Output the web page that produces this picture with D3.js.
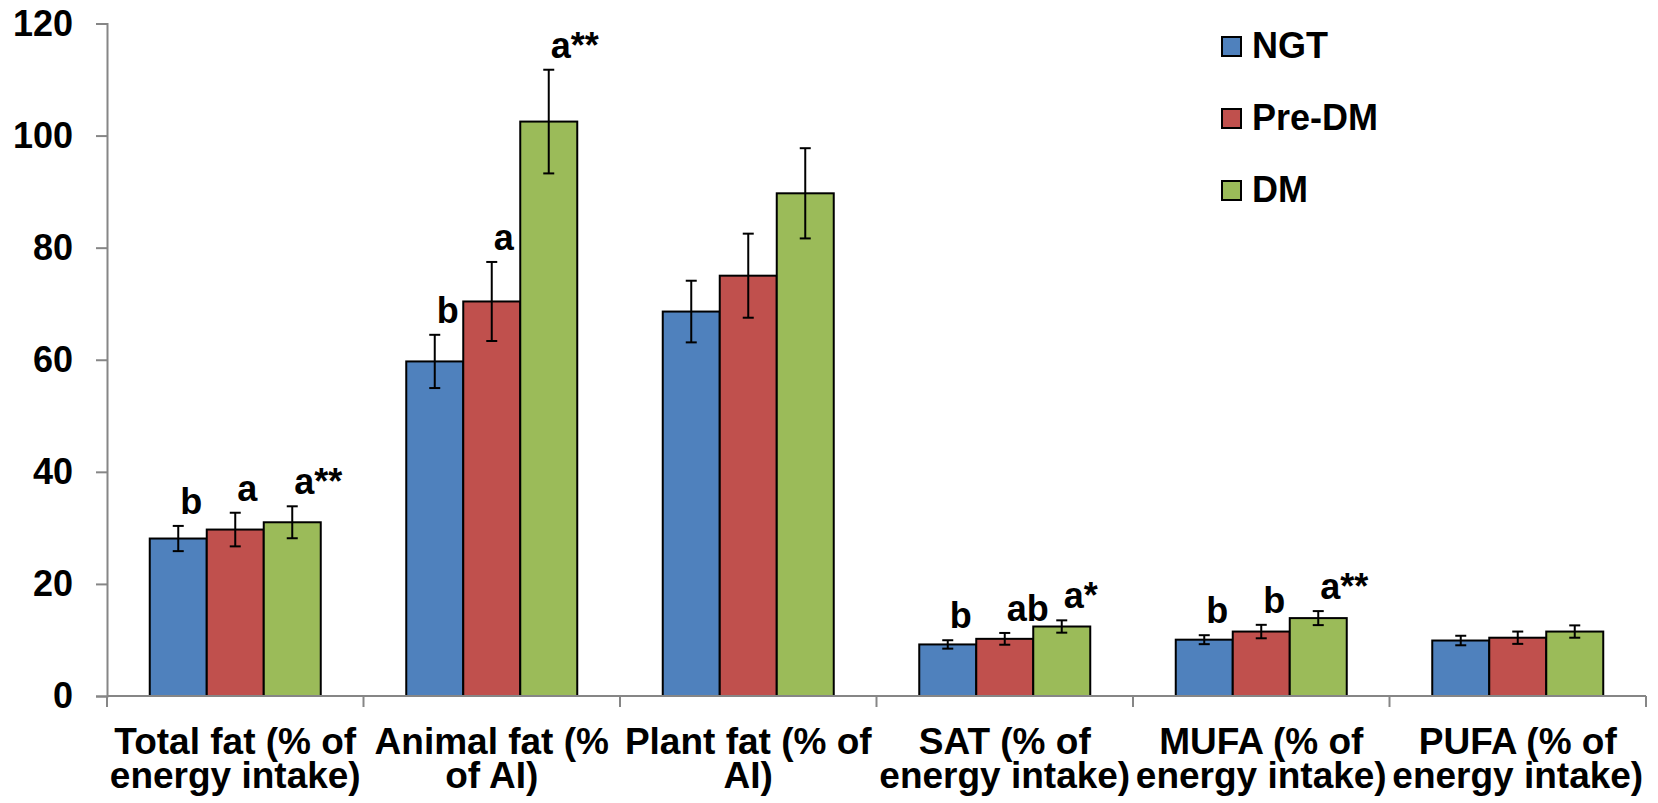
<!doctype html>
<html>
<head>
<meta charset="utf-8"/>
<title>Fat intake by glucose tolerance</title>
<script src="https://d3js.org/d3.v7.min.js"></script>
<style>
  body { margin: 0; background: #fff; }
  text { font-family: Arial, "Liberation Sans", sans-serif; font-weight: bold; fill: #000; }
</style>
</head>
<body>
<script>
// categories (two lines each, as wrapped in the original)
const categories = [
  ["Total fat (% of", "energy intake)"],
  ["Animal fat (%", "of AI)"],
  ["Plant fat (% of", "AI)"],
  ["SAT (% of", "energy intake)"],
  ["MUFA (% of", "energy intake)"],
  ["PUFA (% of", "energy intake)"]
];
const series = ["NGT", "Pre-DM", "DM"];
const colors = ["#4F81BD", "#C0504D", "#9BBB59"];

// means
const ngt   = [28.1, 59.7, 68.6, 9.2, 10.05, 9.9];
const predm = [29.7, 70.4, 75.0, 10.2, 11.5, 10.4];
const dm    = [31.0, 102.5, 89.7, 12.4, 13.9, 11.5];
// error bar half-lengths
const ngtErr   = [2.25, 4.75, 5.5, 0.75, 0.8, 0.85];
const predmErr = [3.0, 7.05, 7.5, 1.05, 1.2, 1.1];
const dmErr    = [2.85, 9.25, 8.05, 1.1, 1.25, 1.1];
// significance letters
const ngtLab   = ["b", "b", "", "b", "b", ""];
const predmLab = ["a", "a", "", "ab", "b", ""];
const dmLab    = ["a**", "a**", "", "a*", "a**", ""];

const yTicks = [0, 20, 40, 60, 80, 100, 120];

const values = [ngt, predm, dm];
const errs = [ngtErr, predmErr, dmErr];
const labs = [ngtLab, predmLab, dmLab];

const W = 1658, H = 803;
const mLeft = 107, mRight = 1646, mTop = 23.5, mBottom = 696;

let svg = d3.select('body').append('svg').attr('width', W).attr('height', H);

var x = d3.scaleBand().domain(d3.range(categories.length)).range([mLeft, mRight]);
var x1 = d3.scaleBand().domain(d3.range(series.length)).range([0, x.bandwidth()])
           .paddingInner(0).paddingOuter(0.75);
var y = d3.scaleLinear().domain([0, 120]).range([mBottom, mTop]);

// flatten into one record per bar
let bars = [];
for (let s = 0; s < series.length; s++)
  for (let c = 0; c < categories.length; c++)
    bars.push({ s: s, c: c, v: values[s][c], e: errs[s][c], lab: labs[s][c] });

// bars
svg.selectAll('.bar')
   .data(bars)
   .enter().append('rect')
    .attr('class', 'bar')
    .attr('x', d => x(d.c) + x1(d.s))
    .attr('width', x1.bandwidth())
    .attr('y', d => y(d.v))
    .attr('height', d => y(0) - y(d.v))
    .style('fill', d => colors[d.s])
    .style('stroke', '#000')
    .style('stroke-width', 2);

// axes (drawn after the bars so the baseline sits on top)
const axisColor = '#868686';
let yAxis = svg.append('g')
   .attr('transform', `translate(${mLeft},0)`)
   .call(d3.axisLeft(y).tickValues(yTicks).tickSize(11).tickPadding(23));
yAxis.select('.domain').attr('stroke', axisColor).attr('stroke-width', 2);
yAxis.selectAll('.tick line').attr('stroke', axisColor).attr('stroke-width', 2);
yAxis.selectAll('.tick text')
   .style('font-size', '36px')
   .attr('fill', '#000');

svg.append('line')
   .attr('x1', mLeft).attr('x2', mRight)
   .attr('y1', y(0)).attr('y2', y(0))
   .attr('stroke', axisColor).attr('stroke-width', 2);

svg.selectAll('.ctick')
   .data(d3.range(categories.length + 1))
   .enter().append('line')
    .attr('class', 'ctick')
    .attr('x1', i => mLeft + i * x.bandwidth())
    .attr('x2', i => mLeft + i * x.bandwidth())
    .attr('y1', y(0)).attr('y2', y(0) + 11)
    .attr('stroke', axisColor).attr('stroke-width', 2);

// category labels
let cl = svg.selectAll('.clab')
   .data(categories)
   .enter().append('text')
    .attr('class', 'clab')
    .attr('text-anchor', 'middle')
    .style('font-size', '37px');
cl.append('tspan')
   .attr('x', (d, i) => x(i) + x.bandwidth() / 2)
   .attr('y', 754)
   .text(d => d[0]);
cl.append('tspan')
   .attr('x', (d, i) => x(i) + x.bandwidth() / 2)
   .attr('y', 788)
   .text(d => d[1]);

// error bars
const cap = 5.5;
let eb = svg.selectAll('.err')
   .data(bars)
   .enter().append('g')
    .attr('class', 'err')
    .attr('transform', d => `translate(${x(d.c) + x1(d.s) + x1.bandwidth() / 2},0)`)
    .style('stroke', '#000')
    .style('stroke-width', 2);
eb.append('line').attr('x1', 0).attr('x2', 0)
   .attr('y1', d => y(d.v + d.e)).attr('y2', d => y(d.v - d.e));
eb.append('line').attr('x1', -cap).attr('x2', cap)
   .attr('y1', d => y(d.v + d.e)).attr('y2', d => y(d.v + d.e));
eb.append('line').attr('x1', -cap).attr('x2', cap)
   .attr('y1', d => y(d.v - d.e)).attr('y2', d => y(d.v - d.e));

// significance letters
svg.selectAll('.sig')
   .data(bars.filter(d => d.lab !== ''))
   .enter().append('text')
    .attr('class', 'sig')
    .attr('x', d => x(d.c) + x1(d.s) + x1.bandwidth() / 2 + 2)
    .attr('y', d => y(d.v + d.e) - 12)
    .style('font-size', '36px')
    .text(d => d.lab);

// legend
let lg = svg.selectAll('.leg')
   .data(series)
   .enter().append('g')
    .attr('class', 'leg')
    .attr('transform', (d, i) => `translate(1222,${37 + i * 72})`);
lg.append('rect')
   .attr('width', 19).attr('height', 19)
   .style('fill', (d, i) => colors[i])
   .style('stroke', '#000').style('stroke-width', 2);
lg.append('text')
   .attr('x', 30).attr('y', 21)
   .style('font-size', '36px')
   .text(d => d);
</script>
</body>
</html>
